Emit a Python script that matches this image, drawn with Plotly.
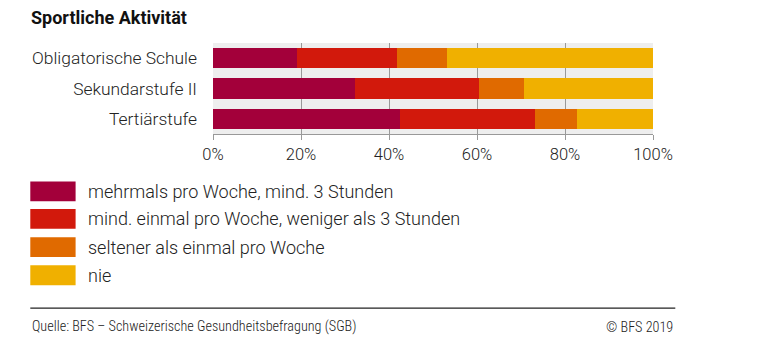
import plotly.graph_objects as go

categories = ["Obligatorische Schule", "Sekundarstufe II", "Tertiärstufe"]
series_names = [
    "mehrmals pro Woche, mind. 3 Stunden",
    "mind. einmal pro Woche, weniger als 3 Stunden",
    "seltener als einmal pro Woche",
    "nie",
]
mehrmals = [19.1, 32.3, 42.6]
einmal = [22.7, 28.1, 30.5]
seltener = [11.4, 10.2, 9.6]
nie = [46.8, 29.4, 17.3]
series_values = [mehrmals, einmal, seltener, nie]
colors = ["#a3003a", "#d2190c", "#e06a00", "#f0b000"]
tick_vals = [0, 20, 40, 60, 80, 100]
tick_text = ["0%", "20%", "40%", "60%", "80%", "100%"]

W, H = 780, 362
OFF = 8  # page offset compensation
L, R, T, B = 212.7 - OFF, 652.7 - OFF, 42.5 - OFF, 134.0 - OFF

fig = go.Figure()
for name, vals, c in zip(series_names, series_values, colors):
    fig.add_trace(go.Bar(
        y=categories, x=vals, name=name, orientation="h",
        marker=dict(color=c, line=dict(width=0)), width=0.66,
        showlegend=False, hoverinfo="x+y+name",
    ))

def px(x):
    return (x - OFF - L) / (R - L)

def py(y):
    return (B - (y - OFF)) / (B - T)

TXT = dict(family="Roboto", color="#222", weight=300)

shapes = []
annotations = []
legend_tops = [181.7, 209.3, 237.7, 266.0]
for name, c, top in zip(series_names, colors, legend_tops):
    shapes.append(dict(type="rect", xref="paper", yref="paper",
                       x0=px(30), x1=px(75.3), y0=py(top + 20), y1=py(top),
                       fillcolor=c, line=dict(width=0)))
    annotations.append(dict(xref="paper", yref="paper", x=px(86), y=py(top + 10),
                            text=name, showarrow=False, xanchor="left", yanchor="middle",
                            font=dict(TXT, size=18)))

shapes.append(dict(type="line", xref="paper", yref="paper",
                   x0=px(30), x1=px(675), y0=py(309), y1=py(309),
                   line=dict(color="#222", width=1.3)))
FOOT = dict(family="Roboto Condensed, Liberation Sans Narrow, Roboto", size=14.2,
            color="#222", weight=300)
annotations.append(dict(xref="paper", yref="paper", x=px(30), y=py(328),
                        text="Quelle: BFS – Schweizerische Gesundheitsbefragung (SGB)",
                        showarrow=False, xanchor="left", yanchor="middle", font=FOOT))
annotations.append(dict(xref="paper", yref="paper", x=px(675), y=py(328),
                        text="© BFS 2019", showarrow=False, xanchor="right", yanchor="middle",
                        font=FOOT))
annotations.append(dict(xref="paper", yref="paper", x=px(29), y=py(17),
                        text="<b>Sportliche Aktivität</b>", showarrow=False,
                        xanchor="left", yanchor="middle",
                        font=dict(family="Roboto", size=18, color="#111")))

fig.update_layout(
    width=W, height=H, barmode="stack",
    margin=dict(l=L, r=W - R, t=T, b=H - B, pad=0),
    paper_bgcolor="white", plot_bgcolor="#eeeeee",
    font=dict(family="Roboto", size=15, color="#222"),
    shapes=shapes, annotations=annotations,
    xaxis=dict(range=[0, 100], tickvals=tick_vals, ticktext=tick_text,
               showgrid=True, gridcolor="#999999", gridwidth=1,
               showline=True, linecolor="#999999", linewidth=1,
               ticks="outside", ticklen=5, tickcolor="#999999",
               tickfont=dict(TXT, size=16.5), zeroline=False, fixedrange=True),
    yaxis=dict(autorange="reversed", showgrid=False, ticks="", ticklabelstandoff=15,
               tickfont=dict(TXT, size=17.4), fixedrange=True),
)

fig.write_html("out.html")
